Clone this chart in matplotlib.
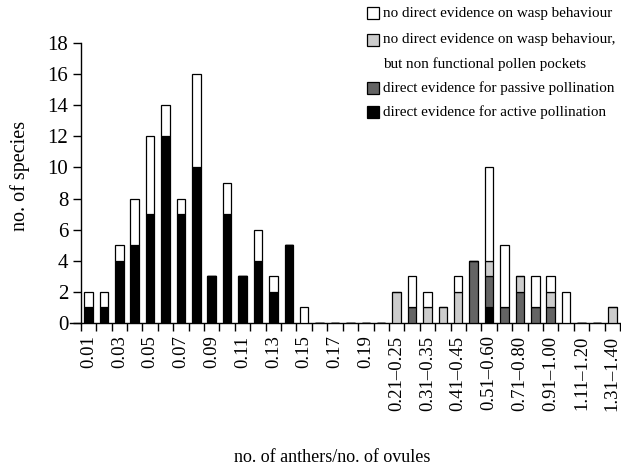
import numpy as np
import matplotlib
matplotlib.use("Agg")
import matplotlib.pyplot as plt
from matplotlib.patches import Rectangle

plt.rcParams['font.family'] = ['Liberation Serif', 'DejaVu Serif']

# categories (no. of anthers / no. of ovules)
categories = ["0.01", "0.02", "0.03", "0.04", "0.05", "0.06", "0.07", "0.08", "0.09", "0.10",
              "0.11", "0.12", "0.13", "0.14", "0.15", "0.16", "0.17", "0.18", "0.19", "0.20",
              "0.21–0.25", "0.26–0.30", "0.31–0.35", "0.36–0.40", "0.41–0.45", "0.46–0.50",
              "0.51–0.60", "0.61–0.70", "0.71–0.80", "0.81–0.90", "0.91–1.00", "1.01–1.10",
              "1.11–1.20", "1.21–1.30", "1.31–1.40"]

# stacked counts, bottom to top
active = [1, 1, 4, 5, 7, 12, 7, 10, 3, 7, 3, 4, 2, 5, 0, 0, 0, 0, 0, 0,
          0, 0, 0, 0, 0, 0, 1, 0, 0, 0, 0, 0, 0, 0, 0]
passive = [0, 0, 0, 0, 0, 0, 0, 0, 0, 0, 0, 0, 0, 0, 0, 0, 0, 0, 0, 0,
           0, 1, 0, 0, 0, 4, 2, 1, 2, 1, 1, 0, 0, 0, 0]
nonfunctional = [0, 0, 0, 0, 0, 0, 0, 0, 0, 0, 0, 0, 0, 0, 0, 0, 0, 0, 0, 0,
                 2, 0, 1, 1, 2, 0, 1, 0, 1, 0, 1, 0, 0, 0, 1]
no_evidence = [1, 1, 1, 3, 5, 2, 1, 6, 0, 2, 0, 2, 1, 0, 1, 0, 0, 0, 0, 0,
               0, 2, 1, 0, 1, 0, 6, 4, 0, 2, 1, 2, 0, 0, 0]

series = [
    (active, "black", "direct evidence for active pollination"),
    (passive, "#646464", "direct evidence for passive pollination"),
    (nonfunctional, "#cccccc", "no direct evidence on wasp behaviour,\nbut non functional pollen pockets"),
    (no_evidence, "white", "no direct evidence on wasp behaviour"),
]

W, H = 621, 472
fig = plt.figure(figsize=(W / 100, H / 100), dpi=100)
ax = fig.add_axes([70 / W, 149 / H, 550 / W, 280 / H])

x = np.arange(len(categories))
bottom = np.zeros(len(categories))
for vals, color, label in series:
    vals = np.array(vals)
    ax.bar(x, vals, width=0.55, bottom=bottom, color=color,
           edgecolor="black", linewidth=0.9, zorder=3)
    bottom += vals

ax.set_xlim(-1.2, len(categories) - 0.5)
ax.set_ylim(0, 18)
ax.set_yticks(range(0, 19, 2))

# labels under every other bar, tick marks at bar boundaries
ax.set_xticks(x[::2])
ax.set_xticklabels(categories[::2], rotation=90)
ax.set_xticks(np.arange(-0.5, len(categories)), minor=True)
ax.tick_params(axis="x", which="major", length=0, pad=9, labelsize=13.5)
ax.tick_params(axis="x", which="minor", length=6, width=1, direction="out")
ax.tick_params(axis="y", length=6, width=1, direction="out", pad=3, labelsize=15)

ax.spines["top"].set_visible(False)
ax.spines["right"].set_visible(False)
ax.spines["left"].set_position(("data", -0.5))
ax.spines["left"].set_linewidth(1)
ax.spines["bottom"].set_linewidth(1)

fig.text(20 / W, 1 - 176 / H, "no. of species", fontsize=14.5, rotation=90,
         ha="center", va="center")
fig.text(332 / W, 1 - 458 / H, "no. of anthers/no. of ovules", fontsize=13,
         ha="center", va="center")

# legend drawn by hand so the two-line entry keeps its box on the first line
legend_rows = [
    (series[3], [13]),
    (series[2], [40, 64]),
    (series[1], [88]),
    (series[0], [112]),
]
box = 12
for (vals, color, label), ys in legend_rows:
    fig.add_artist(Rectangle((367 / W, 1 - (ys[0] + box / 2) / H), box / W, box / H,
                             facecolor=color, edgecolor="black", linewidth=0.9,
                             transform=fig.transFigure))
    for line, y in zip(label.split("\n"), ys):
        fig.text(383 / W, 1 - y / H, line, fontsize=10.9, ha="left", va="center")

fig.savefig("out.png", dpi=100)
